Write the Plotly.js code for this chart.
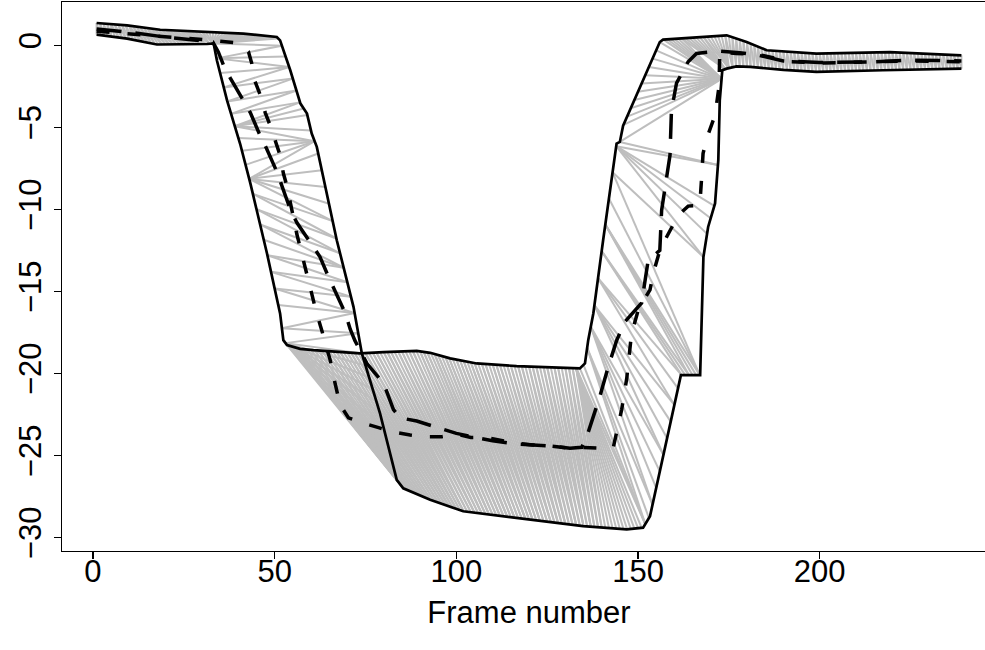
<!DOCTYPE html>
<html><head><meta charset="utf-8">
<script src="https://cdn.plot.ly/plotly-3.0.1.min.js"></script>
<style>html,body{margin:0;padding:0;overflow:hidden;background:#fff}#chart{width:1010px;height:650px}</style>
</head><body><div id="chart"></div>
<script>
// Series A (starts high at left, drops late)
const seriesAFrames = [1,9.4,18.5,23,32.3,41.4,50.6,51.5,54.3,57.1,58.9,60.2,61.6,63.4,64.8,67.1,71.7,74,79,83.6,85.4,92.8,101.9,116.6,134.9,146.9,151.4,153.3,161.8,167.1,168,169.3,171.2,172.1,172.5,173.2,174.4,177.1,180.9,190,199.1,217.4,230,239];
const seriesAValues = [1.36,1.22,0.95,0.9,0.81,0.71,0.51,0.3,-1.52,-3.55,-4.16,-5.38,-6.19,-8.02,-9.44,-11.88,-15.94,-18.78,-22.43,-26.49,-27.0,-27.7,-28.4,-28.8,-29.3,-29.5,-29.4,-28.7,-20.1,-20.1,-12.9,-11.07,-9.64,-7.0,-3.35,-1.52,-1.42,-1.28,-1.32,-1.5,-1.62,-1.52,-1.45,-1.42];
// Series B (starts low at left, drops early)
const seriesBFrames = [1,9.4,17.6,25,31.4,33.2,34.1,36.9,39.6,40.5,43.3,47.9,51.5,52.4,53.4,57,60.7,73.5,80,89.1,92.8,98.3,105.6,116.6,134,135.4,136.3,137.7,140.4,144.1,145,145.9,156,156.9,174.4,179.9,185.4,199.1,219.3,239];
const seriesBValues = [0.65,0.41,0.05,0.05,0.08,0.12,-0.91,-3.35,-5.38,-6.0,-8.4,-12.69,-16.34,-17.97,-18.27,-18.5,-18.58,-18.78,-18.7,-18.62,-18.74,-19.08,-19.39,-19.55,-19.69,-19.39,-17.97,-16.34,-11.88,-5.99,-5.89,-4.9,0.2,0.35,0.61,0.2,-0.3,-0.51,-0.42,-0.61];
// Short-dashed average track
const shortDashFrames = [1,10,18.5,25,33,39.6,42.8,43.7,44.6,46,47.4,48.8,50.2,51.5,52.4,53.4,56.1,57,58.4,59.3,60.2,61.4,63,65.3,66,67.1,68,70.3,74,78.6,82.2,87.3,90.9,96,100,104,108.4,115,121,126,131.3,134.5,139.5,143.2,144.6,145.5,146.9,148.2,150.1,153.3,154.2,156,157.9,161.1,163.8,167,167.5,167.9,168.9,171.2,172.3,172.5,177,183,192,201,215,225,239];
const shortDashValues = [0.85,0.7,0.55,0.4,0.3,0.15,-0.4,-1.1,-2.2,-3.0,-4.1,-4.9,-5.9,-6.7,-7.8,-8.6,-11.5,-12.3,-13.5,-14.3,-15.3,-16.2,-17.4,-19.2,-20.0,-21.0,-21.9,-22.7,-23.0,-23.3,-23.55,-23.75,-23.85,-23.85,-23.7,-23.9,-23.9,-24.2,-24.36,-24.42,-24.56,-24.5,-24.56,-24.5,-23.2,-22.2,-20.3,-17.6,-16.1,-14.9,-13.9,-12.5,-11.67,-10.35,-9.8,-9.74,-8.1,-6.6,-5.68,-4.26,-2.5,-0.4,-0.5,-0.55,-1.0,-1.08,-1.0,-0.95,-1.0];
// Long-dashed average track
const longDashFrames = [1,10,20,30,33,34.5,35.9,37.8,41.4,43.3,46,47.8,50.6,52,54.3,56.1,60.2,62.5,64.8,66.6,69.4,70.8,72.1,75.4,80,82.7,84.5,89.1,95.5,100,106.5,110,116.6,121.2,125.8,131.3,134.5,135.9,137.7,139.5,141.8,144.1,146.4,151,152.8,156,156.5,157.7,158.8,159.2,160.6,163.8,166.1,172,178,183,190,200,215,225,239];
const longDashValues = [1.0,0.8,0.5,0.3,0.2,-0.4,-1.2,-2.0,-3.35,-4.1,-5.5,-6.3,-7.7,-8.6,-10.0,-10.8,-12.1,-12.9,-14.1,-15.0,-16.3,-17.3,-18.0,-19.4,-20.6,-22.2,-22.7,-22.9,-23.35,-23.65,-23.95,-24.1,-24.3,-24.36,-24.42,-24.56,-24.5,-23.85,-22.6,-21.4,-19.6,-18.0,-16.85,-15.7,-13.1,-12.5,-10.05,-8.2,-6.7,-4.0,-2.3,-1.0,-0.5,-0.35,-0.45,-0.6,-0.95,-1.05,-1.0,-0.9,-0.95];
// Alignment (warping path corners): frame on A, frame on B
const pathA = [1,25,30,51,54,57,61,61,66,72,73,84,140,152,152,160,167,168,172,173,173,176,239];
const pathB = [1,30,33,33,35,39,39,43,43,51,53,53,133,134,136,139,142,144,144,146,156,175,239];

const xTickVals = [0,50,100,150,200];
const yTickVals = [0,-5,-10,-15,-20,-25,-30];
const yTickText = ['0','\u22125','\u221210','\u221215','\u221220','\u221225','\u221230'];
const xTitle = 'Frame number';

function valueAt(xs, ys, t){
  if (t <= xs[0]) return ys[0];
  for (let k=1;k<xs.length;k++){
    if (t <= xs[k]){ const f=(t-xs[k-1])/(xs[k]-xs[k-1]); return ys[k-1]+f*(ys[k]-ys[k-1]); }
  }
  return ys[ys.length-1];
}
// expand path corners into single (horizontal/vertical) warping steps
const steps = [[pathA[0], pathB[0]]];
for (let c=1;c<pathA.length;c++){
  const i0=pathA[c-1], j0=pathB[c-1], i1=pathA[c], j1=pathB[c];
  const di=i1-i0, dj=j1-j0;
  let i=i0, j=j0;
  while (i<i1 || j<j1){
    if (j>=j1 || (i<i1 && (i+1-i0)*dj <= (j+1-j0)*di)) i++; else j++;
    steps.push([i,j]);
  }
}
const gx=[], gy=[];
steps.forEach(([i,j])=>{
  gx.push(i, j, null);
  gy.push(valueAt(seriesAFrames,seriesAValues,i), valueAt(seriesBFrames,seriesBValues,j), null);
});

const traces = [
  {x:gx, y:gy, mode:'lines', line:{color:'#bebebe', width:2}, hoverinfo:'skip', connectgaps:false},
  {x:seriesAFrames, y:seriesAValues, mode:'lines', line:{color:'#000', width:2.7}},
  {x:seriesBFrames, y:seriesBValues, mode:'lines', line:{color:'#000', width:2.7}},
  {x:shortDashFrames, y:shortDashValues, mode:'lines', line:{color:'#000', width:3.5, dash:'13px,18px'}},
  {x:longDashFrames, y:longDashValues, mode:'lines', line:{color:'#000', width:3.5, dash:'25px,14px'}}
];
const font = {family:'"Liberation Sans", Arial, sans-serif', size:31, color:'#000'};
const layout = {
  width:1010, height:650, showlegend:false,
  margin:{l:62, r:14, t:2, b:99, pad:0},
  paper_bgcolor:'#fff', plot_bgcolor:'#fff', font:font,
  xaxis:{range:[-8.52,248.52], tickmode:'array', tickvals:xTickVals, ticks:'outside', ticklen:7, tickwidth:1.3, tickcolor:'#000',
    showline:true, mirror:true, linecolor:'#000', linewidth:1.3, showgrid:false, zeroline:false, tickfont:font, ticklabelstandoff:-15,
    title:{text:xTitle, font:font, standoff:13}},
  yaxis:{range:[-30.82,2.64], tickmode:'array', tickvals:yTickVals, ticktext:yTickText, tickangle:-90, ticks:'outside', ticklen:7, tickwidth:1.3, tickcolor:'#000',
    showline:true, mirror:true, linecolor:'#000', linewidth:1.3, showgrid:false, zeroline:false, tickfont:font}
};
Plotly.newPlot('chart', traces, layout, {staticPlot:true, displayModeBar:false});
</script></body></html>
